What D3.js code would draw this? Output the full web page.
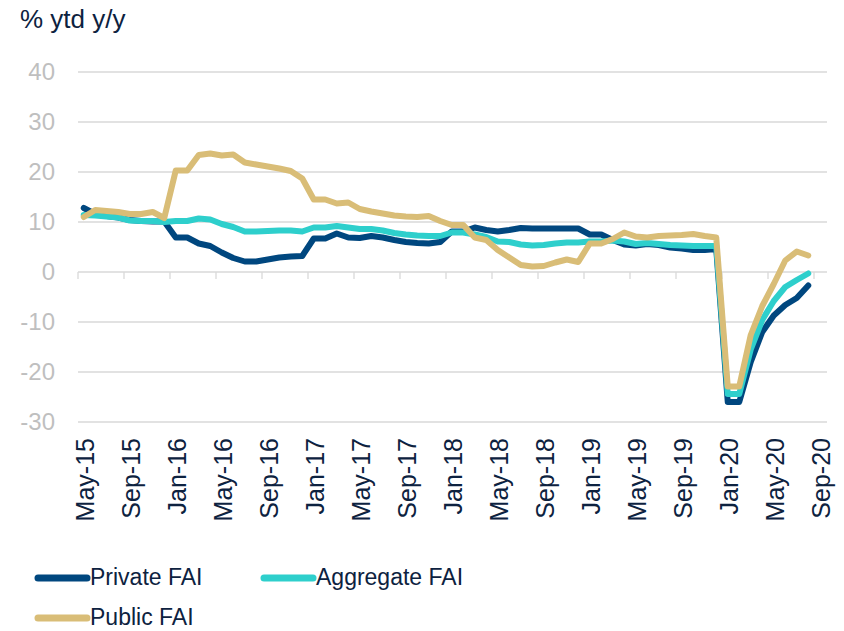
<!DOCTYPE html>
<html>
<head>
<meta charset="utf-8">
<script src="https://cdn.jsdelivr.net/npm/d3@7"></script>
<style>
  body { margin: 0; background: #fff; }
  svg { display: block; font-family: "Liberation Sans", Arial, sans-serif; }
</style>
</head>
<body>
<div id="viz"></div>
<script>
/* global d3 */
const months = [
  'May-15', 'Jun-15', 'Jul-15', 'Aug-15', 'Sep-15', 'Oct-15', 'Nov-15', 'Dec-15',
  'Jan-16', 'Feb-16', 'Mar-16', 'Apr-16', 'May-16', 'Jun-16', 'Jul-16', 'Aug-16', 'Sep-16', 'Oct-16', 'Nov-16', 'Dec-16',
  'Jan-17', 'Feb-17', 'Mar-17', 'Apr-17', 'May-17', 'Jun-17', 'Jul-17', 'Aug-17', 'Sep-17', 'Oct-17', 'Nov-17', 'Dec-17',
  'Jan-18', 'Feb-18', 'Mar-18', 'Apr-18', 'May-18', 'Jun-18', 'Jul-18', 'Aug-18', 'Sep-18', 'Oct-18', 'Nov-18', 'Dec-18',
  'Jan-19', 'Feb-19', 'Mar-19', 'Apr-19', 'May-19', 'Jun-19', 'Jul-19', 'Aug-19', 'Sep-19', 'Oct-19', 'Nov-19', 'Dec-19',
  'Jan-20', 'Feb-20', 'Mar-20', 'Apr-20', 'May-20', 'Jun-20', 'Jul-20', 'Aug-20', 'Sep-20',
];

const tickLabels = [
  'May-15', 'Sep-15', 'Jan-16', 'May-16', 'Sep-16', 'Jan-17', 'May-17', 'Sep-17', 'Jan-18',
  'May-18', 'Sep-18', 'Jan-19', 'May-19', 'Sep-19', 'Jan-20', 'May-20', 'Sep-20',
];

const yTicks = [40, 30, 20, 10, 0, -10, -20, -30];

// May-15 .. Aug-20
const privateFAI = [
  12.8, 11.6, 11.2, 10.9, 10.4, 10.2, 10.1, 10.1,
  6.9, 6.9, 5.7, 5.2, 3.9, 2.8, 2.1, 2.1, 2.5, 2.9, 3.1, 3.2,
  6.7, 6.7, 7.7, 6.9, 6.8, 7.2, 6.9, 6.4, 6.0, 5.8, 5.7, 6.0,
  8.1, 8.1, 8.9, 8.4, 8.1, 8.4, 8.8, 8.7, 8.7, 8.7, 8.7, 8.7,
  7.5, 7.5, 6.4, 5.5, 5.3, 5.6, 5.4, 4.9, 4.7, 4.4, 4.4, 4.6,
  -26.0, -26.0, -18.0, -12.0, -8.7, -6.6, -5.2, -2.7,
];

const aggregateFAI = [
  11.4, 11.3, 11.1, 10.9, 10.3, 10.2, 10.2, 10.0,
  10.2, 10.2, 10.7, 10.5, 9.6, 9.0, 8.1, 8.1, 8.2, 8.3, 8.3, 8.1,
  8.9, 8.9, 9.2, 8.9, 8.6, 8.6, 8.3, 7.8, 7.5, 7.3, 7.2, 7.2,
  7.9, 7.9, 7.5, 7.0, 6.1, 6.0, 5.5, 5.3, 5.4, 5.7, 5.9, 5.9,
  6.1, 6.1, 6.3, 6.1, 5.6, 5.8, 5.6, 5.4, 5.3, 5.2, 5.2, 5.2,
  -24.4, -24.4, -15.5, -9.6, -5.8, -3.0, -1.6, -0.3,
];

const publicFAI = [
  11.0, 12.4, 12.2, 12.0, 11.6, 11.6, 12.0, 10.8,
  20.3, 20.3, 23.4, 23.7, 23.3, 23.5, 21.9, 21.5, 21.1, 20.7, 20.2, 18.7,
  14.5, 14.5, 13.7, 13.9, 12.6, 12.1, 11.7, 11.3, 11.1, 11.0, 11.2, 10.2,
  9.4, 9.4, 6.9, 6.4, 4.4, 2.9, 1.4, 1.1, 1.2, 1.9, 2.5, 2.0,
  5.7, 5.7, 6.6, 7.9, 7.1, 6.9, 7.2, 7.3, 7.4, 7.6, 7.2, 6.9,
  -22.9, -22.9, -12.6, -6.8, -2.4, 2.3, 4.1, 3.3,
];

(function faiChart() {
  const width = 844;
  const height = 631;

  const privateColor = '#00477F';
  const aggregateColor = '#2ECFCC';
  const publicColor = '#D9BD77';
  const textColor = '#0D2240';
  const gridColor = '#D9D9D9';
  const tickTextColor = '#BFBFBF';

  const series = [
    { name: 'Private FAI', values: privateFAI, color: privateColor },
    { name: 'Aggregate FAI', values: aggregateFAI, color: aggregateColor },
    { name: 'Public FAI', values: publicFAI, color: publicColor },
  ];

  const x = d3.scaleBand()
    .domain(months)
    .range([78, 825.5]);

  const y = d3.scaleLinear()
    .domain([-30, 40])
    .range([422, 72]);

  const svg = d3.select('#viz').append('svg')
    .attr('width', width)
    .attr('height', height);

  // title
  svg.append('text')
    .attr('x', 20)
    .attr('y', 28)
    .style('font-size', '26px')
    .style('fill', textColor)
    .text('% ytd y/y');

  // gridlines
  svg.append('g')
    .selectAll('line')
    .data(yTicks)
    .enter()
    .append('line')
    .attr('x1', 78)
    .attr('x2', 827)
    .attr('y1', d => y(d))
    .attr('y2', d => y(d))
    .attr('stroke', gridColor)
    .attr('stroke-width', 1.3);

  svg.append('g')
    .selectAll('text')
    .data(yTicks)
    .enter()
    .append('text')
    .attr('x', 55)
    .attr('y', d => y(d))
    .attr('dy', '0.35em')
    .style('text-anchor', 'end')
    .style('font-size', '24px')
    .style('fill', tickTextColor)
    .text(d => d);

  // tick marks on the zero line
  svg.append('g')
    .selectAll('line')
    .data(tickLabels)
    .enter()
    .append('line')
    .attr('x1', d => x(d))
    .attr('x2', d => x(d))
    .attr('y1', y(0))
    .attr('y2', y(0) + 7)
    .attr('stroke', gridColor)
    .attr('stroke-width', 1.3);

  // month labels at the bottom
  svg.append('g')
    .selectAll('text')
    .data(tickLabels)
    .enter()
    .append('text')
    .attr('transform', d => `translate(${x(d) + x.bandwidth() / 2 + 1}, 438) rotate(-90)`)
    .attr('dy', '0.35em')
    .style('text-anchor', 'end')
    .style('font-size', '25px')
    .style('fill', textColor)
    .text(d => d);

  const line = d3.line()
    .x((d, i) => x(months[i]) + x.bandwidth() / 2)
    .y(d => y(d));

  svg.append('g')
    .selectAll('path')
    .data(series)
    .enter()
    .append('path')
    .attr('d', d => line(d.values))
    .attr('fill', 'none')
    .attr('stroke', d => d.color)
    .attr('stroke-width', 6)
    .attr('stroke-linejoin', 'round')
    .attr('stroke-linecap', 'round');

  // legend
  const legendPos = [
    { x: 38, y: 578 },
    { x: 264, y: 578 },
    { x: 38, y: 618 },
  ];

  const legend = svg.append('g')
    .selectAll('g')
    .data(series)
    .enter()
    .append('g')
    .attr('transform', (d, i) => `translate(${legendPos[i].x}, ${legendPos[i].y})`);

  legend.append('line')
    .attr('x1', 0)
    .attr('x2', 49)
    .attr('stroke', d => d.color)
    .attr('stroke-width', 7)
    .attr('stroke-linecap', 'round');

  legend.append('text')
    .attr('x', 52)
    .attr('dy', '0.32em')
    .style('font-size', '23px')
    .style('fill', textColor)
    .text(d => d.name);
}());
</script>
</body>
</html>
